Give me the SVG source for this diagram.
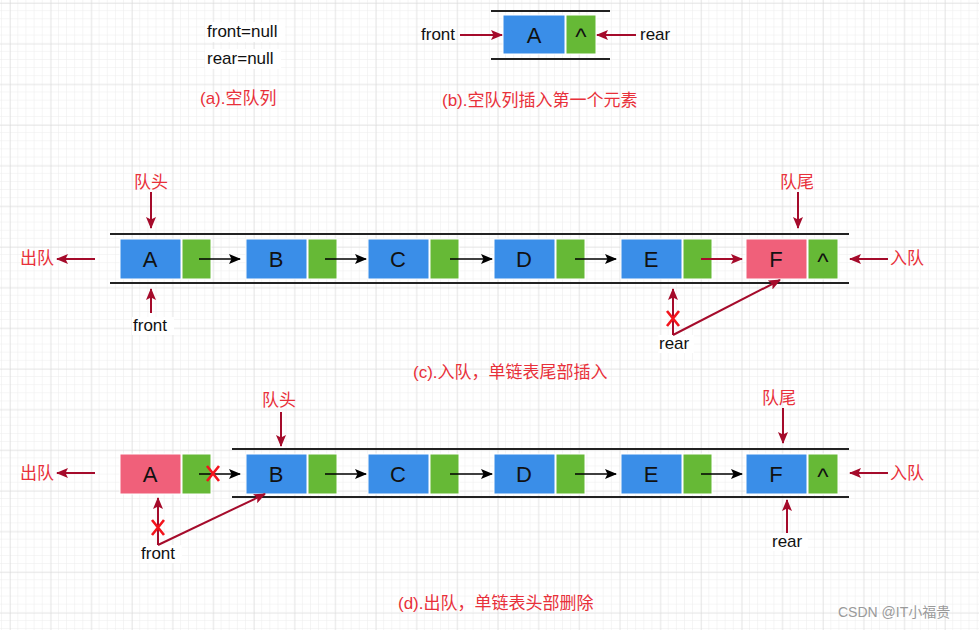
<svg xmlns="http://www.w3.org/2000/svg" width="979" height="630" viewBox="0 0 979 630">
<defs>
<pattern id="minor" x="2" y="3" width="8.13" height="8.13" patternUnits="userSpaceOnUse">
<path d="M8.13 0V8.13M0 8.13H8.13" fill="none" stroke="#ececec" stroke-width="1"/>
</pattern>
<pattern id="major" x="10" y="3" width="40.65" height="40.65" patternUnits="userSpaceOnUse">
<path d="M0 0V40.65M0 0H40.65" fill="none" stroke="#d9d9d9" stroke-width="1"/>
</pattern>
<marker id="ar" viewBox="0 0 12 10" refX="11" refY="5" markerWidth="12" markerHeight="10" markerUnits="userSpaceOnUse" orient="auto">
<path d="M0 0L12 5L0 10L2.5 5z" fill="#a50b2b"/>
</marker>
<marker id="ab" viewBox="0 0 12 10" refX="11" refY="5" markerWidth="12" markerHeight="10" markerUnits="userSpaceOnUse" orient="auto">
<path d="M0 0L12 5L0 10L2.5 5z" fill="#000"/>
</marker>
<style>
.t{font-family:"Liberation Sans",Arial,sans-serif;fill:#111}
.lbl{font-size:17px}
.bx{font-size:22px;text-anchor:middle}
.car{font-size:24px;text-anchor:middle}
.cap{font-family:"Liberation Sans","Noto Sans CJK SC",sans-serif;font-size:17px;fill:#e8303a}
.cn{font-family:"Noto Sans CJK SC",sans-serif;font-size:17px;fill:#e8303a}
.blue{fill:#3a8ee8;stroke:#fff;stroke-width:1}
.green{fill:#66b936;stroke:#fff;stroke-width:1}
.pink{fill:#f0607a;stroke:#fff;stroke-width:1}
.rail{stroke:#222;stroke-width:2}
.red{stroke:#a50b2b;stroke-width:2;fill:none;marker-end:url(#ar)}
.blk{stroke:#000;stroke-width:1.5;fill:none;marker-end:url(#ab)}
.x{stroke:#f3141c;stroke-width:2.6;fill:none}
.wb{fill:#fff}
</style>
</defs>
<rect width="979" height="630" fill="#fff"/>
<rect width="979" height="630" fill="url(#minor)"/>
<rect width="979" height="630" fill="url(#major)"/>

<!-- (a) -->
<g id="a-empty">
<rect class="wb" x="205" y="22" width="80" height="20"/>
<rect class="wb" x="205" y="49" width="76" height="20"/>
<text class="t lbl" x="207" y="37">front=null</text>
<text class="t lbl" x="207" y="64">rear=null</text>
<text class="cap" x="200" y="104">(a).空队列</text>
</g>

<!-- (b) -->
<g id="b-first">
<line class="rail" x1="491" y1="11" x2="610" y2="11"/>
<line class="rail" x1="491" y1="59" x2="610" y2="59"/>
<rect class="blue" x="503" y="15" width="62" height="39"/>
<rect class="green" x="566" y="15" width="30" height="39"/>
<text class="t bx" x="534" y="43">A</text>
<text class="t car" x="581" y="45">^</text>
<text class="t lbl" x="421" y="40">front</text>
<text class="t lbl" x="640" y="40">rear</text>
<text class="cap" x="442" y="106">(b).空队列插入第一个元素</text>
</g>

<!-- (c) rails and nodes -->
<g id="c-rails">
<line class="rail" x1="110" y1="234" x2="849" y2="234"/>
<line class="rail" x1="110" y1="283" x2="849" y2="283"/>
</g>
<g id="c-A"><rect class="blue" x="120" y="239" width="61" height="40"/><rect class="green" x="182" y="239" width="29" height="40"/><text class="t bx" x="150" y="267">A</text></g>
<g id="c-B"><rect class="blue" x="246" y="239" width="61" height="40"/><rect class="green" x="308" y="239" width="29" height="40"/><text class="t bx" x="276" y="267">B</text></g>
<g id="c-C"><rect class="blue" x="368" y="239" width="61" height="40"/><rect class="green" x="430" y="239" width="29" height="40"/><text class="t bx" x="398" y="267">C</text></g>
<g id="c-D"><rect class="blue" x="494" y="239" width="61" height="40"/><rect class="green" x="556" y="239" width="29" height="40"/><text class="t bx" x="524" y="267">D</text></g>
<g id="c-E"><rect class="blue" x="621" y="239" width="61" height="40"/><rect class="green" x="683" y="239" width="29" height="40"/><text class="t bx" x="651" y="267">E</text></g>
<g id="c-F"><rect class="pink" x="746" y="239" width="61" height="40"/><rect class="green" x="808" y="239" width="30" height="40"/><text class="t bx" x="776" y="267">F</text><text class="t car" x="823" y="270">^</text></g>
<g id="c-labels">
<text class="cn" x="134" y="188">队头</text>
<text class="cn" x="780" y="188">队尾</text>
<text class="cn" x="20" y="264">出队</text>
<text class="cn" x="890" y="264">入队</text>
<rect class="wb" x="132" y="317" width="42" height="18"/>
<text class="t lbl" x="133" y="331">front</text>
<rect class="wb" x="658" y="335" width="36" height="18"/>
<text class="t lbl" x="659" y="349">rear</text>
<text class="cap" x="413" y="378">(c).入队，单链表尾部插入</text>
</g>

<!-- (d) rails and nodes -->
<g id="d-rails">
<line class="rail" x1="232" y1="449" x2="849" y2="449"/>
<line class="rail" x1="232" y1="497" x2="849" y2="497"/>
</g>
<g id="d-A"><rect class="pink" x="120" y="454" width="61" height="40"/><rect class="green" x="182" y="454" width="29" height="40"/><text class="t bx" x="150" y="482">A</text></g>
<g id="d-B"><rect class="blue" x="246" y="454" width="61" height="40"/><rect class="green" x="308" y="454" width="29" height="40"/><text class="t bx" x="276" y="482">B</text></g>
<g id="d-C"><rect class="blue" x="368" y="454" width="61" height="40"/><rect class="green" x="430" y="454" width="29" height="40"/><text class="t bx" x="398" y="482">C</text></g>
<g id="d-D"><rect class="blue" x="494" y="454" width="61" height="40"/><rect class="green" x="556" y="454" width="29" height="40"/><text class="t bx" x="524" y="482">D</text></g>
<g id="d-E"><rect class="blue" x="621" y="454" width="61" height="40"/><rect class="green" x="683" y="454" width="29" height="40"/><text class="t bx" x="651" y="482">E</text></g>
<g id="d-F"><rect class="blue" x="746" y="454" width="61" height="40"/><rect class="green" x="808" y="454" width="30" height="40"/><text class="t bx" x="776" y="482">F</text><text class="t car" x="823" y="485">^</text></g>
<g id="d-labels">
<text class="cn" x="262" y="406">队头</text>
<text class="cn" x="762" y="404">队尾</text>
<text class="cn" x="20" y="479">出队</text>
<text class="cn" x="890" y="479">入队</text>
<rect class="wb" x="140" y="545" width="42" height="18"/>
<text class="t lbl" x="141" y="559">front</text>
<rect class="wb" x="771" y="533" width="37" height="18"/>
<text class="t lbl" x="772" y="547">rear</text>
<text class="cap" x="398" y="609">(d).出队，单链表头部删除</text>
</g>

<!-- connectors -->
<g id="connectors">
<!-- b -->
<line class="red" x1="460" y1="35" x2="502" y2="35"/>
<line class="red" x1="636" y1="35" x2="597" y2="35"/>
<!-- c -->
<line class="blk" x1="199" y1="259" x2="240" y2="259"/>
<line class="blk" x1="325" y1="259" x2="366" y2="259"/>
<line class="blk" x1="450" y1="259" x2="492" y2="259"/>
<line class="blk" x1="575" y1="259" x2="616" y2="259"/>
<line class="red" x1="701" y1="259" x2="742" y2="259"/>
<line class="red" x1="151" y1="192" x2="151" y2="228"/>
<line class="red" x1="798" y1="192" x2="798" y2="228"/>
<line class="red" x1="95" y1="259" x2="57" y2="259"/>
<line class="red" x1="888" y1="259" x2="850" y2="259"/>
<line class="red" x1="151" y1="313" x2="151" y2="289"/>
<line class="red" x1="673" y1="335" x2="673" y2="289"/>
<line class="red" x1="673" y1="335" x2="780" y2="280"/>
<path class="x" d="M667 311L679 326M679 311L667 326"/>
<!-- d -->
<line class="blk" x1="199" y1="474" x2="240" y2="474"/>
<line class="blk" x1="325" y1="474" x2="366" y2="474"/>
<line class="blk" x1="450" y1="474" x2="492" y2="474"/>
<line class="blk" x1="575" y1="474" x2="616" y2="474"/>
<line class="blk" x1="701" y1="474" x2="742" y2="474"/>
<path class="x" d="M207 466L219 481M219 466L207 481"/>
<line class="red" x1="281" y1="412" x2="281" y2="446"/>
<line class="red" x1="783" y1="408" x2="783" y2="443"/>
<line class="red" x1="95" y1="473" x2="57" y2="473"/>
<line class="red" x1="888" y1="473" x2="850" y2="473"/>
<line class="red" x1="787" y1="533" x2="787" y2="500"/>
<line class="red" x1="158" y1="545" x2="158" y2="498"/>
<line class="red" x1="158" y1="545" x2="265" y2="494"/>
<path class="x" d="M152 520L164 535M164 520L152 535"/>
</g>

<text x="838" y="617" style="font-family:'Liberation Sans','Noto Sans CJK SC',sans-serif;font-size:14px;fill:#9a9a9a">CSDN @IT小福贵</text>
</svg>
